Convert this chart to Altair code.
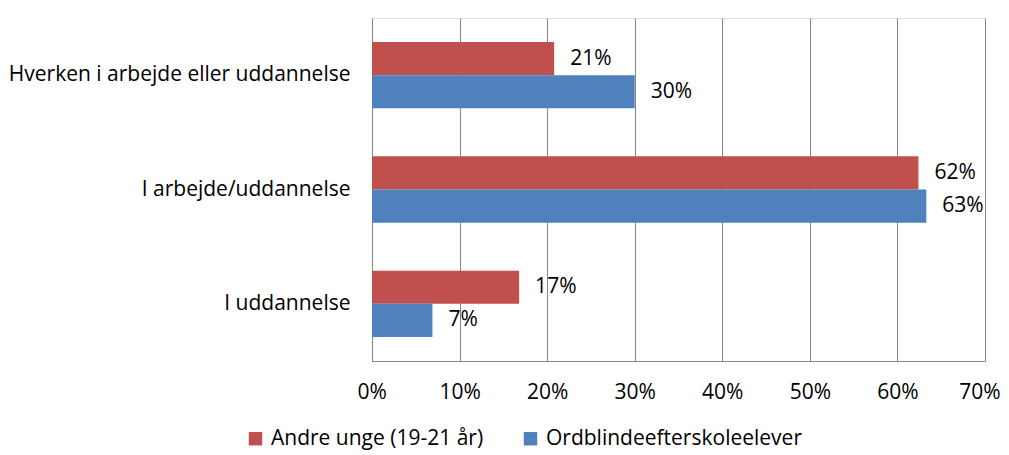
import altair as alt
import pandas as pd

categories = ["Hverken i arbejde eller uddannelse", "I arbejde/uddannelse", "I uddannelse"]
series = ["Andre unge (19-21 år)", "Ordblindeefterskoleelever"]
andre_unge = [0.208, 0.624, 0.168]
ordblinde = [0.300, 0.633, 0.069]
colors = ["#C0504D", "#4F81BD"]
x_ticks = [0, 0.1, 0.2, 0.3, 0.4, 0.5, 0.6, 0.7]

rows = []
for c, a, o in zip(categories, andre_unge, ordblinde):
    rows.append({"kategori": c, "serie": series[0], "andel": a})
    rows.append({"kategori": c, "serie": series[1], "andel": o})
df = pd.DataFrame(rows)

FONT = "Open Sans"
FS = 21

y_enc = alt.Y("kategori:N", sort=categories, title=None,
              scale=alt.Scale(paddingInner=0.42, paddingOuter=0.21),
              axis=alt.Axis(labelFontSize=FS, labelFont=FONT, labelColor="#000000",
                            labelPadding=22, ticks=False, domainColor="#868686",
                            labelLimit=400))
yoff = alt.YOffset("serie:N", sort=series, scale=alt.Scale(paddingInner=0, paddingOuter=0))
x_enc = alt.X("andel:Q", title=None,
              scale=alt.Scale(domain=[0, 0.7], nice=False),
              axis=alt.Axis(values=x_ticks, format=".0%", labelFontSize=FS, labelFont=FONT,
                            labelColor="#000000", labelPadding=20, ticks=False,
                            labelFlush=True, labelFlushOffset=15,
                            grid=True, gridColor="#868686", domainColor="#868686"))

bars = alt.Chart(df).mark_bar().encode(
    y=y_enc, yOffset=yoff, x=x_enc,
    color=alt.Color("serie:N", sort=series,
                    scale=alt.Scale(domain=series, range=colors),
                    legend=alt.Legend(title=None, orient="none", direction="horizontal",
                                      legendX=-127, legendY=410,
                                      symbolType="square", symbolSize=180,
                                      symbolStrokeWidth=0, labelFontSize=FS,
                                      labelFont=FONT, labelColor="#000000",
                                      labelOffset=5, columnPadding=36, labelLimit=400))
)

labels = alt.Chart(df).mark_text(align="left", baseline="middle", dx=16,
                                 fontSize=FS, font=FONT, color="#000000").encode(
    y=alt.Y("kategori:N", sort=categories), yOffset=yoff,
    x=alt.X("andel:Q"),
    text=alt.Text("andel:Q", format=".0%")
)

chart = (bars + labels).properties(
    width=613, height=343,
    autosize=alt.AutoSizeParams(type="none"),
    padding={"left": 364, "top": 10, "right": 16, "bottom": 92},
).configure_view(stroke=None).configure(font=FONT)

chart.save("out.html", embed_options={"renderer": "svg", "actions": False})
